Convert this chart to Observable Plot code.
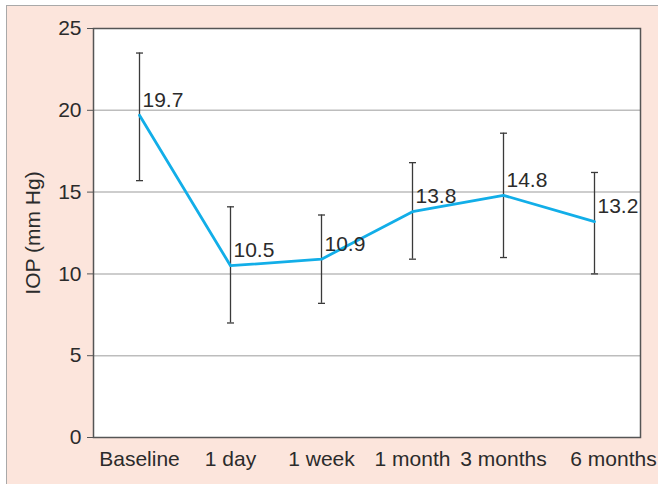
<!DOCTYPE html>
<html>
<head>
<meta charset="utf-8">
<script src="https://cdn.jsdelivr.net/npm/d3@7"></script>
<script src="https://cdn.jsdelivr.net/npm/@observablehq/plot@0.6"></script>
<style>
  html, body { margin: 0; padding: 0; background: #ffffff; }
  #wrap { position: relative; width: 658px; height: 484px; overflow: hidden; }
  #panel {
    position: absolute; left: 6px; top: 5px; right: 0; bottom: 0;
    background: #fce5dc;
    border-top: 1.5px solid #a9a9a9;
    border-left: 1.5px solid #a9a9a9;
  }
  #chart { position: absolute; left: 0; top: 0; }
  #chart svg { background: transparent; overflow: visible; }
</style>
</head>
<body>
<div id="wrap">
  <div id="panel"></div>
  <div id="chart"></div>
</div>
<script>
// Follow-up time points
const timepoints = ["Baseline", "1 day", "1 week", "1 month", "3 months", "6 months"];
// Mean intraocular pressure (mm Hg)
const meanIOP = [19.7, 10.5, 10.9, 13.8, 14.8, 13.2];
// Error bar ends (mm Hg)
const lowerIOP = [15.7, 7.0, 8.2, 10.9, 11.0, 10.0];
const upperIOP = [23.5, 14.1, 13.6, 16.8, 18.6, 16.2];
// Y axis ticks
const yTicks = [0, 5, 10, 15, 20, 25];
const gridValues = [5, 10, 15, 20];

const rows = timepoints.map((t, i) => ({
  time: t, iop: meanIOP[i], lo: lowerIOP[i], hi: upperIOP[i], label: meanIOP[i].toFixed(1)
}));

// short horizontal stroke used as an error-bar cap
const capSymbol = {
  draw(context) {
    context.moveTo(-3.5, 0);
    context.lineTo(3.5, 0);
  }
};

const ink = "#2b2b2b";
const barInk = "#3a3a3a";
const lastTime = timepoints[timepoints.length - 1];
const chart = Plot.plot({
  width: 658,
  height: 484,
  marginLeft: 93,
  marginRight: 18,
  marginTop: 28,
  marginBottom: 47,
  style: { fontFamily: "'Liberation Sans', Arial, sans-serif", fontSize: "21px", background: "transparent", color: ink },
  x: { type: "point", domain: timepoints, padding: 0.5 },
  y: { domain: [0, 25] },
  marks: [
    Plot.frame({ fill: "white", stroke: null }),
    Plot.ruleY(gridValues, { stroke: "#bdbdbd", strokeWidth: 1.5 }),
    Plot.frame({ stroke: "#555555", strokeWidth: 1.5 }),
    Plot.axisY({
      ticks: yTicks, tickSize: 6, tickPadding: 6, fontSize: 21,
      stroke: "#555555", label: "IOP (mm Hg)", labelAnchor: "center",
      labelOffset: 68, labelArrow: "none"
    }),
    // category labels; the last one sits a little further right, against the panel edge
    Plot.axisX({ ticks: timepoints.slice(0, -1), tickSize: 0, tickPadding: 14, fontSize: 21, label: null }),
    Plot.axisX({ ticks: [lastTime], tickSize: 0, tickPadding: 14, fontSize: 21, dx: 19, label: null }),
    Plot.ruleX(rows, { x: "time", y1: "lo", y2: "hi", stroke: barInk, strokeWidth: 1.3 }),
    Plot.dot(rows, { x: "time", y: "lo", symbol: capSymbol, r: 3, fill: "none", stroke: barInk, strokeWidth: 1.3 }),
    Plot.dot(rows, { x: "time", y: "hi", symbol: capSymbol, r: 3, fill: "none", stroke: barInk, strokeWidth: 1.3 }),
    Plot.line(rows, { x: "time", y: "iop", stroke: "#12aee8", strokeWidth: 2.8 }),
    Plot.text(rows, {
      x: "time", y: "iop", text: "label", textAnchor: "start",
      dx: 3, dy: -15, fontSize: 21, fill: ink
    })
  ]
});
document.getElementById("chart").appendChild(chart);
</script>
</body>
</html>
